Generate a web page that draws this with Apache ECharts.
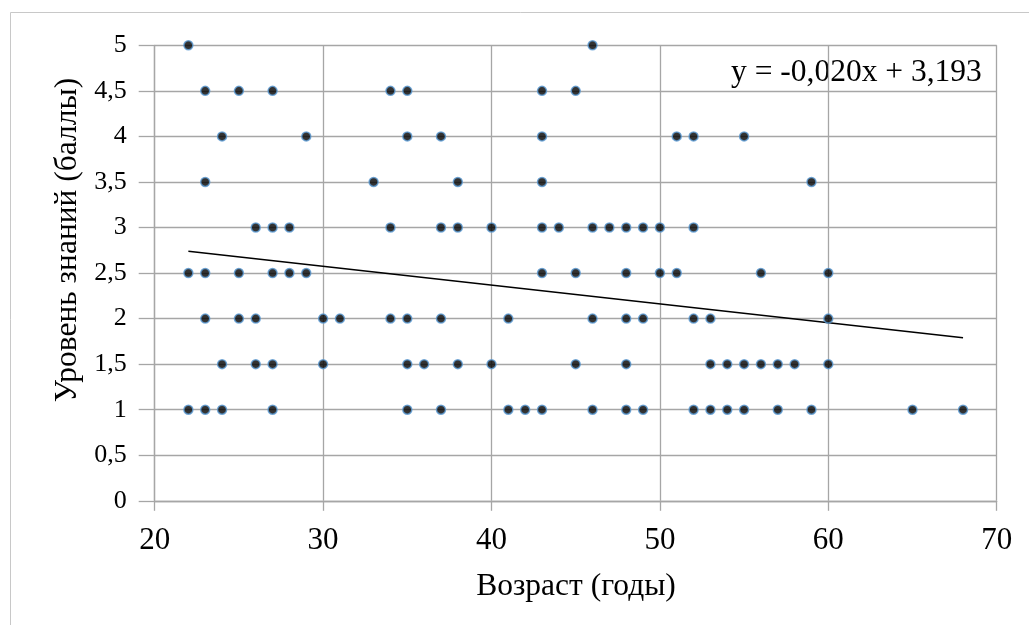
<!DOCTYPE html>
<html>
<head>
<meta charset="utf-8">
<script src="https://cdn.jsdelivr.net/npm/echarts@6/dist/echarts.min.js"></script>
<style>html,body{margin:0;padding:0;background:#fff;}#c{width:1029px;height:625px;}</style>
</head>
<body>
<div id="c"></div>
<script>
// Points grouped by score level (ages)
const ages50 = [22, 46];
const ages45 = [23, 25, 27, 34, 35, 43, 45];
const ages40 = [24, 29, 35, 37, 43, 51, 52, 55];
const ages35 = [23, 33, 38, 43, 59];
const ages30 = [26, 27, 28, 34, 37, 38, 40, 43, 44, 46, 47, 48, 49, 50, 52];
const ages25 = [22, 23, 25, 27, 28, 29, 43, 45, 48, 50, 51, 56, 60];
const ages20 = [23, 25, 26, 30, 31, 34, 35, 37, 41, 46, 48, 49, 52, 53, 60];
const ages15 = [24, 26, 27, 30, 35, 36, 38, 40, 45, 48, 53, 54, 55, 56, 57, 58, 60];
const ages10 = [22, 23, 24, 27, 35, 37, 41, 42, 43, 46, 48, 49, 52, 53, 54, 55, 57, 59, 65, 68];
const scoreLevels = [5, 4.5, 4, 3.5, 3, 2.5, 2, 1.5, 1];
const agesByLevel = [ages50, ages45, ages40, ages35, ages30, ages25, ages20, ages15, ages10];
// Trend line endpoints (as drawn)
const trendX = [22, 68];
const trendY = [2.74, 1.79];
const equationText = 'y = -0,020x + 3,193';
const xTitle = 'Возраст (годы)';
const yTitle = 'Уровень знаний (баллы)';

const points = [];
agesByLevel.forEach((arr, i) => arr.forEach(a => points.push([a, scoreLevels[i]])));
const trend = trendX.map((x, i) => [x, trendY[i]]);

const chart = echarts.init(document.getElementById('c'), null, {renderer: 'canvas'});
const serif = "'Liberation Serif', 'DejaVu Serif', serif";
const gridColor = '#a6a6a6';
chart.setOption({
  animation: false,
  backgroundColor: '#fff',
  grid: {left: 154.7, right: 32.3, top: 45.3, bottom: 124.2, containLabel: false},
  xAxis: {
    type: 'value', min: 20, max: 70, interval: 10,
    axisLine: {show: true, onZero: false, lineStyle: {color: gridColor, width: 1.3}},
    axisTick: {show: true, length: 10, lineStyle: {color: gridColor, width: 1.3}},
    splitLine: {show: true, lineStyle: {color: gridColor, width: 1.3}},
    axisLabel: {color: '#000', fontFamily: serif, fontSize: 31, margin: 25}
  },
  yAxis: {
    type: 'value', min: 0, max: 5, interval: 0.5,
    axisLine: {show: true, onZero: false, lineStyle: {color: gridColor, width: 1.3}},
    axisTick: {show: true, length: 16, lineStyle: {color: gridColor, width: 1.3}},
    splitLine: {show: true, lineStyle: {color: gridColor, width: 1.3}},
    axisLabel: {color: '#000', fontFamily: serif, fontSize: 26, margin: 28,
      formatter: v => String(v).replace('.', ',')}
  },
  series: [
    {type: 'line', data: trend, symbol: 'none', lineStyle: {color: '#000', width: 1.5}, z: 3},
    {type: 'scatter', data: points, symbol: 'circle', symbolSize: 9,
      itemStyle: {color: '#000', borderColor: '#5b9bd5', borderWidth: 1.5}, z: 4}
  ],
  graphic: [
    {type: 'rect', shape: {x: 10.5, y: 12.5, width: 1040, height: 640},
      style: {fill: 'none', stroke: '#c8c8c8', lineWidth: 1}, silent: true, z: -1},
    {type: 'text', x: 731, y: 73, style: {text: equationText, fontFamily: serif, fontSize: 31.5,
      fill: '#000', textAlign: 'left', textVerticalAlign: 'middle'}},
    {type: 'text', x: 576, y: 587, style: {text: xTitle, fontFamily: serif, fontSize: 31.5,
      fill: '#000', textAlign: 'center', textVerticalAlign: 'middle'}},
    {type: 'text', x: 68, y: 240, rotation: Math.PI / 2, style: {text: yTitle, fontFamily: serif, fontSize: 31.5,
      fill: '#000', textAlign: 'center', textVerticalAlign: 'middle'}}
  ]
});
</script>
</body>
</html>
